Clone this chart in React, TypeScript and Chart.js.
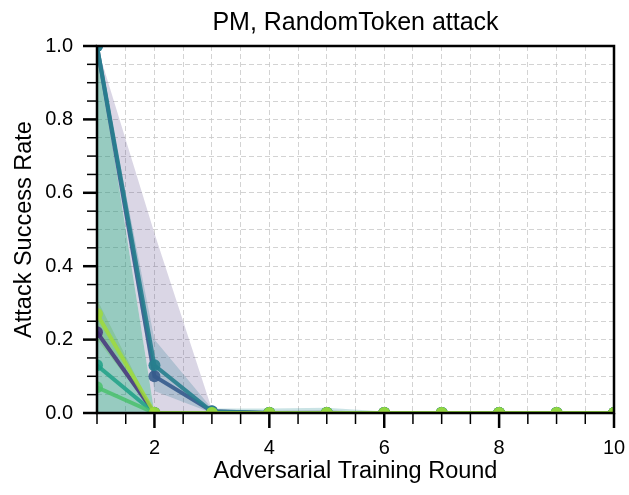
import React, { useEffect, useRef } from 'react';
import { Chart, registerables } from 'chart.js';

Chart.register(...registerables);

// ---- data ----
const rounds = [1, 2, 3, 4, 5, 6, 7, 8, 9, 10];

const purpleMean = [0.22, 0, 0, 0, 0, 0, 0, 0, 0, 0];
const blueMean = [1.0, 0.1, 0.005, 0, 0, 0, 0, 0, 0, 0];
const blueUpper = [1.0, 0.49, 0.01, 0.006, 0.008, 0, 0, 0, 0, 0];
const blueLower = [1.0, 0, 0, 0, 0, 0, 0, 0, 0, 0];
const tealMean = [1.0, 0.13, 0.004, 0, 0, 0, 0, 0, 0, 0];
const tealUpper = [1.0, 0.2, 0.012, 0.012, 0.014, 0.004, 0.002, 0, 0, 0];
const tealLower = [1.0, 0.06, 0, 0, 0, 0, 0, 0, 0, 0];
const seaMean = [0.13, 0, 0, 0, 0, 0, 0, 0, 0, 0];
const seaUpper = [1.0, 0, 0, 0, 0, 0, 0, 0, 0, 0];
const seaLower = [0, 0, 0, 0, 0, 0, 0, 0, 0, 0];
const greenMean = [0.07, 0, 0, 0, 0, 0, 0, 0, 0, 0];
const limeMean = [0.27, 0, 0, 0, 0, 0, 0, 0, 0, 0];
const limeUpper = [0.31, 0, 0, 0, 0, 0, 0, 0, 0, 0];
const limeLower = [0.2, 0, 0, 0, 0, 0, 0, 0, 0, 0];

const yTickLabels = ['0.0', '0.2', '0.4', '0.6', '0.8', '1.0'];
const xTickLabels = ['2', '4', '6', '8', '10'];

const FONT = "'Liberation Sans', Arial, sans-serif";

const pts = (arr: number[]) => rounds.map((r, i) => ({ x: r, y: arr[i] }));

const line = (label: string, data: number[], color: string, order: number) => ({
  label,
  data: pts(data),
  borderColor: color,
  backgroundColor: color,
  pointBackgroundColor: color,
  pointBorderWidth: 0,
  pointRadius: 6,
  borderWidth: 4,
  fill: false,
  order,
  clip: 0,
});

const band = (label: string, upper: number[], lower: number[], color: string) => [
  {
    label: label + ' upper',
    data: pts(upper),
    borderWidth: 0,
    pointRadius: 0,
    backgroundColor: color,
    borderColor: 'rgba(0,0,0,0)',
    fill: '+1',
    order: 20,
    clip: 0,
  },
  {
    label: label + ' lower',
    data: pts(lower),
    borderWidth: 0,
    pointRadius: 0,
    backgroundColor: color,
    borderColor: 'rgba(0,0,0,0)',
    fill: false,
    order: 20,
    clip: 0,
  },
];

const isMult = (v: number, step: number) => Math.abs(v / step - Math.round(v / step)) < 1e-6;

const framePlugin = {
  id: 'frameTicks',
  afterLayout(chart: any) {
    if (chart.titleBlock) {
      chart.titleBlock.left = chart.chartArea.left;
      chart.titleBlock.right = chart.chartArea.right;
    }
  },
  afterDraw(chart: any) {
    const { ctx, chartArea: a } = chart;
    const xs = chart.scales.x;
    const ys = chart.scales.y;
    ctx.save();
    ctx.strokeStyle = '#000';
    xs.ticks.forEach((t: any) => {
      const major = isMult(t.value, 2);
      const px = xs.getPixelForValue(t.value);
      ctx.lineWidth = major ? 2.5 : 1.5;
      ctx.beginPath();
      ctx.moveTo(px, a.bottom);
      ctx.lineTo(px, a.bottom + (major ? 15 : 11));
      ctx.stroke();
    });
    ys.ticks.forEach((t: any) => {
      const major = isMult(t.value, 0.2);
      const py = ys.getPixelForValue(t.value);
      ctx.lineWidth = major ? 2.5 : 1.5;
      ctx.beginPath();
      ctx.moveTo(a.left, py);
      ctx.lineTo(a.left - (major ? 14 : 10), py);
      ctx.stroke();
    });
    ctx.lineWidth = 2.5;
    ctx.strokeRect(a.left, a.top, a.right - a.left, a.bottom - a.top);
    ctx.restore();
  },
};

export default function App() {
  const ref = useRef<HTMLCanvasElement | null>(null);
  useEffect(() => {
    if (!ref.current) return;
    const chart = new Chart(ref.current, {
      type: 'line',
      data: {
        datasets: [
          ...band('blue', blueUpper, blueLower, 'rgba(70,50,126,0.2)'),
          ...band('sea', seaUpper, seaLower, 'rgba(25,140,115,0.45)'),
          ...band('teal', tealUpper, tealLower, 'rgba(33,140,145,0.24)'),
          ...band('lime', limeUpper, limeLower, 'rgba(160,218,57,0.3)'),
          line('lime', limeMean, 'rgba(160,218,57,0.85)', 0),
          line('green', greenMean, 'rgba(74,193,109,0.85)', 1),
          line('sea', seaMean, 'rgba(31,161,135,0.85)', 2),
          line('purple', purpleMean, 'rgba(70,50,126,0.85)', 3),
          line('teal', tealMean, 'rgba(39,127,142,0.9)', 4),
          line('blue', blueMean, 'rgba(54,92,141,0.9)', 5),
        ] as any,
      },
      options: {
        responsive: false,
        animation: false,
        layout: { padding: { left: 0, right: 15, top: 0, bottom: 0 } },
        plugins: {
          legend: { display: false },
          tooltip: { enabled: false },
          title: {
            display: true,
            text: 'PM, RandomToken attack',
            color: '#000',
            font: { family: FONT, size: 25, weight: 'normal' },
            padding: { top: 8.2, bottom: 7.8 },
          },
        },
        scales: {
          x: {
            type: 'linear',
            min: 1,
            max: 10,
            afterFit: (s: any) => {
              s.height = 82;
              s.paddingLeft = 0;
              s.paddingRight = 0;
            },
            ticks: {
              stepSize: 0.5,
              autoSkip: false,
              maxRotation: 0,
              padding: 23.5,
              color: '#000',
              font: { family: FONT, size: 20 },
              callback: (v: any) => {
                const n = Number(v);
                if (isMult(n, 2)) {
                  const idx = Math.round(n / 2) - 1;
                  return xTickLabels[idx] ?? '';
                }
                return '';
              },
            },
            grid: {
              drawTicks: false,
              color: 'rgba(200,200,200,0.8)',
              lineWidth: 1,
            },
            border: { display: false, dash: [5, 3] },
            title: {
              display: true,
              text: 'Adversarial Training Round',
              color: '#000',
              font: { family: FONT, size: 23.5 },
              padding: { top: 0, bottom: 9 },
            },
          },
          y: {
            type: 'linear',
            min: 0,
            max: 1,
            afterFit: (s: any) => {
              s.width = 97;
              s.paddingTop = 0;
              s.paddingBottom = 0;
            },
            ticks: {
              stepSize: 0.05,
              autoSkip: false,
              padding: 24,
              color: '#000',
              font: { family: FONT, size: 20 },
              callback: (v: any) => {
                const n = Number(v);
                if (isMult(n, 0.2)) return yTickLabels[Math.round(n / 0.2)] ?? '';
                return '';
              },
            },
            grid: {
              drawTicks: false,
              color: 'rgba(200,200,200,0.8)',
              lineWidth: 1,
            },
            border: { display: false, dash: [5, 3] },
            title: {
              display: true,
              text: 'Attack Success Rate',
              color: '#000',
              font: { family: FONT, size: 23.5 },
              padding: { top: 10.5, bottom: 0 },
            },
          },
        },
      } as any,
      plugins: [framePlugin],
    });
    return () => chart.destroy();
  }, []);
  return (
    <div style={{ position: 'absolute', left: 0, top: 0, width: 629, height: 495 }}>
      <canvas ref={ref} width={629} height={495} style={{ display: 'block' }} />
    </div>
  );
}
